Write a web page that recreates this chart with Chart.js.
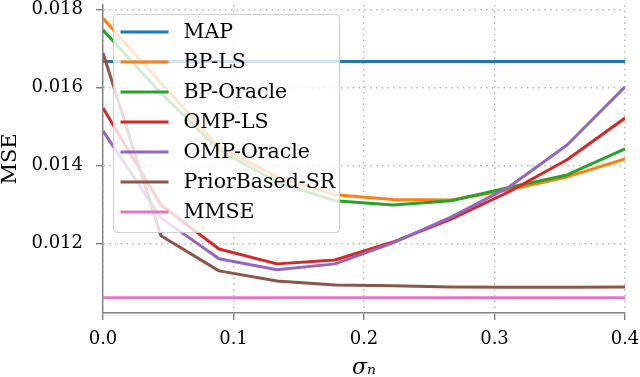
<!DOCTYPE html>
<html>
<head>
<meta charset="utf-8">
<script src="https://cdn.jsdelivr.net/npm/chart.js@4/dist/chart.umd.min.js"></script>
<style>
html,body{margin:0;padding:0;background:#fff;}
canvas{display:block;}
</style>
</head>
<body>
<canvas id="c" width="640" height="377"></canvas>
<script>
// ---- data ----
const sigmaN = [0, 0.0444, 0.0889, 0.1333, 0.1778, 0.2222, 0.2667, 0.3111, 0.3556, 0.4];
const seriesLabels = ['MAP', 'BP-LS', 'BP-Oracle', 'OMP-LS', 'OMP-Oracle', 'PriorBased-SR', 'MMSE'];
const mapMSE      = [0.01666, 0.01666, 0.01666, 0.01666, 0.01666, 0.01666, 0.01666, 0.01666, 0.01666, 0.01666];
const bpLS        = [0.01777, 0.01611, 0.01447, 0.01370, 0.01324, 0.01312, 0.01311, 0.01337, 0.01370, 0.01416];
const bpOracle    = [0.01747, 0.01585, 0.01439, 0.01357, 0.01309, 0.01298, 0.01309, 0.01343, 0.01375, 0.01442];
const ompLS       = [0.01547, 0.01298, 0.01185, 0.01147, 0.01157, 0.01203, 0.01262, 0.01332, 0.01414, 0.01521];
const ompOracle   = [0.01488, 0.01265, 0.01160, 0.01132, 0.01147, 0.01201, 0.01267, 0.01344, 0.01452, 0.01601];
const priorSR     = [0.01688, 0.01219, 0.01129, 0.01103, 0.01093, 0.01091, 0.01088, 0.01087, 0.01087, 0.01088];
const mmse        = [0.01060, 0.01060, 0.01060, 0.01060, 0.01060, 0.01060, 0.01060, 0.01060, 0.01060, 0.01060];
const xTicks = [0.0, 0.1, 0.2, 0.3, 0.4];
const yTicks = [0.012, 0.014, 0.016, 0.018];
const xTickLabels = ['0.0', '0.1', '0.2', '0.3', '0.4'];
const yTickLabels = ['0.012', '0.014', '0.016', '0.018'];
const xTitle = 'σₙ';
const yTitle = 'MSE';

// ---- styling ----
const colors = ['#1f77b4', '#ff7f0e', '#2ca02c', '#d62728', '#9467bd', '#8c564b', '#e377c2'];
const allSeries = [mapMSE, bpLS, bpOracle, ompLS, ompOracle, priorSR, mmse];

const datasets = allSeries.map((vals, i) => ({
  label: seriesLabels[i],
  data: sigmaN.map((x, j) => ({x: x, y: vals[j]})),
  borderColor: colors[i],
  backgroundColor: colors[i],
  borderWidth: 3,
  pointRadius: 0,
  tension: 0,
  fill: false,
  borderJoinStyle: 'round',
  order: -i
}));

const SERIF = '"DejaVu Serif", serif';

const insideLegend = {
  id: 'insideLegend',
  afterDatasetsDraw(chart) {
    const {ctx, chartArea} = chart;
    const x0 = chartArea.left + 10.5, y0 = chartArea.top + 9.5, w = 226, h = 218, r = 4;
    ctx.save();
    ctx.beginPath();
    ctx.moveTo(x0 + r, y0);
    ctx.lineTo(x0 + w - r, y0);
    ctx.arcTo(x0 + w, y0, x0 + w, y0 + r, r);
    ctx.lineTo(x0 + w, y0 + h - r);
    ctx.arcTo(x0 + w, y0 + h, x0 + w - r, y0 + h, r);
    ctx.lineTo(x0 + r, y0 + h);
    ctx.arcTo(x0, y0 + h, x0, y0 + h - r, r);
    ctx.lineTo(x0, y0 + r);
    ctx.arcTo(x0, y0, x0 + r, y0, r);
    ctx.closePath();
    ctx.fillStyle = 'rgba(255,255,255,0.8)';
    ctx.fill();
    ctx.strokeStyle = 'rgba(204,204,204,0.9)';
    ctx.lineWidth = 1.2;
    ctx.stroke();
    chart.data.datasets.forEach((ds, i) => {
      const y = y0 + 17.5 + i * 30;
      ctx.beginPath();
      ctx.strokeStyle = ds.borderColor;
      ctx.lineWidth = 3;
      ctx.moveTo(x0 + 7, y);
      ctx.lineTo(x0 + 55, y);
      ctx.stroke();
      ctx.fillStyle = '#000';
      ctx.font = '20.5px ' + SERIF;
      ctx.textBaseline = 'middle';
      ctx.textAlign = 'left';
      ctx.fillText(ds.label, x0 + 70, y + 1);
    });
    ctx.restore();
  }
};

new Chart(document.getElementById('c'), {
  type: 'line',
  data: {datasets: datasets},
  options: {
    responsive: false,
    animation: false,
    devicePixelRatio: 1,
    layout: {padding: {left: 0, right: 15, top: 5, bottom: 0}},
    plugins: {legend: {display: false}, tooltip: {enabled: false}},
    scales: {
      x: {
        type: 'linear',
        min: 0, max: 0.4,
        afterBuildTicks: (s) => { s.ticks = xTicks.map(v => ({value: v})); },
        afterFit: (s) => { s.height = 64; s.paddingLeft = 0; s.paddingRight = 0; },
        ticks: {
          callback: (v) => { const k = xTicks.findIndex(t => Math.abs(t - v) < 1e-9); return k >= 0 ? xTickLabels[k] : ''; },
          font: {family: SERIF, size: 18},
          color: '#000',
          padding: 9,
          maxRotation: 0,
          autoSkip: false
        },
        grid: {
          color: '#b5b5b5',
          lineWidth: 1.4,
          tickLength: 7,
          tickColor: '#808080',
          tickWidth: 1.4
        },
        border: {display: true, color: '#808080', width: 1.4, dash: [1.5, 4.3]},
        title: {
          display: true, text: xTitle,
          font: {family: SERIF, size: 22, style: 'italic', lineHeight: 1},
          color: '#000',
          padding: {top: 0, bottom: -2}
        }
      },
      y: {
        type: 'linear',
        min: 0.01021, max: 0.01811,
        afterBuildTicks: (s) => { s.ticks = yTicks.map(v => ({value: v})); },
        afterFit: (s) => { s.width = 103; s.paddingTop = 0; s.paddingBottom = 0; },
        ticks: {
          callback: (v) => { const k = yTicks.findIndex(t => Math.abs(t - v) < 1e-9); return k >= 0 ? yTickLabels[k] : ''; },
          font: {family: SERIF, size: 18},
          color: '#000',
          padding: 13,
          autoSkip: false
        },
        grid: {
          color: '#b5b5b5',
          lineWidth: 1.4,
          tickLength: 7,
          tickColor: '#808080',
          tickWidth: 1.4
        },
        border: {display: true, color: '#808080', width: 1.4, dash: [1.5, 4.3]},
        title: {
          display: true, text: yTitle,
          font: {family: SERIF, size: 21, lineHeight: 1},
          color: '#000',
          padding: {top: 0, bottom: 0}
        }
      }
    }
  },
  plugins: [insideLegend]
});
</script>
</body>
</html>
